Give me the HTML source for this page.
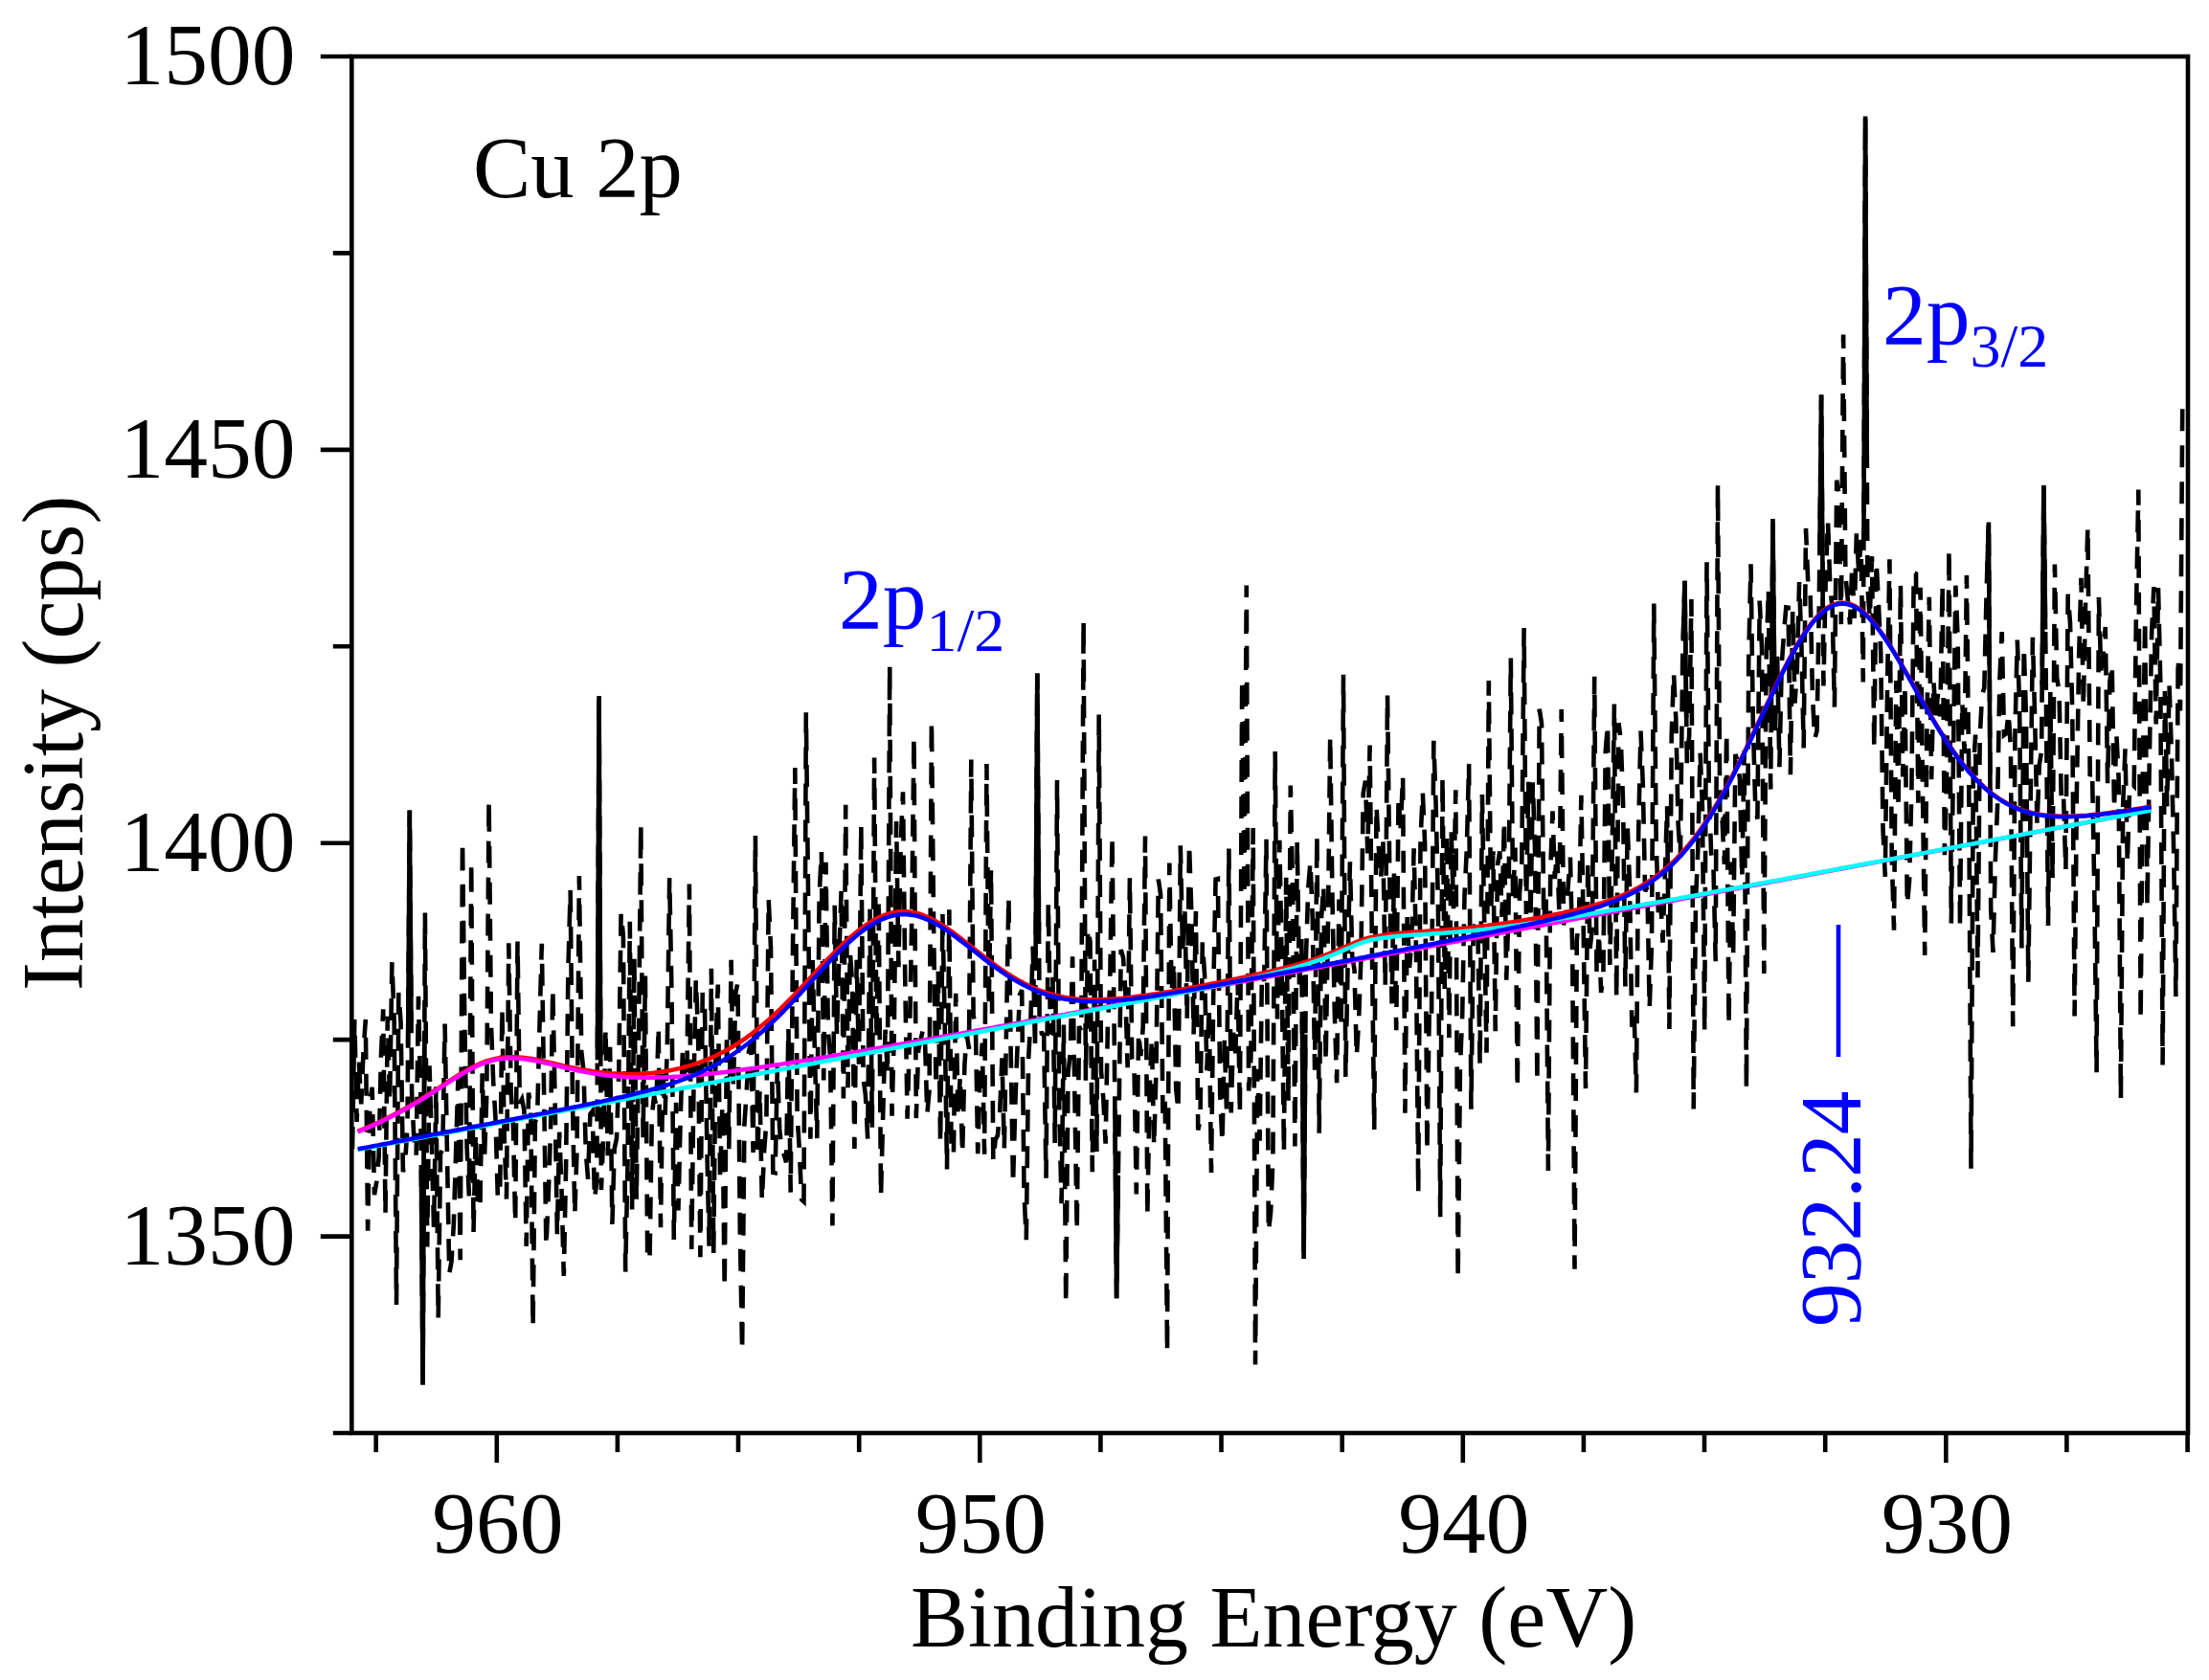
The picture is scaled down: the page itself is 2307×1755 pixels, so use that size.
<!DOCTYPE html><html><head><meta charset="utf-8"><title>Cu 2p XPS spectrum</title><style>html,body{margin:0;padding:0;background:#fff;overflow:hidden}svg{display:block}text{font-family:"Liberation Serif","Times New Roman",serif}</style></head><body><svg width="2307" height="1755" viewBox="0 0 2307 1755"><rect width="2307" height="1755" fill="#fff"/><polyline fill="none" stroke="#000" stroke-width="4.6" stroke-dasharray="23 15" stroke-linejoin="miter" points="368,1200.1 370.3,1065 372.6,1172 374.9,1109.5 377.2,1153.4 379.5,1098.9 381.8,1065 384.1,1285.7 386.4,1149.1 388.7,1135.9 391,1248.2 393.3,1234.6 395.6,1209 397.9,1104 400.2,1054.3 402.5,1268.3 404.8,1061.7 407.1,1151.3 409.4,1005.1 411.7,1066.8 414,1362.9 416.3,1037 418.6,1068.6 420.9,1224.2 423.2,1212.5 425.5,1177.6 427.8,846.4 430.1,1141.7 432.4,1191.2 434.7,1207.4 437,1040.9 439.3,1147.3 441.6,1446.4 443.9,953.6 446.2,1302.6 448.5,1113.4 450.8,1191.6 453.1,1284.2 455.4,1135.4 457.7,1377.9 460,1205.2 462.3,1200.2 464.6,1069.6 466.9,1201 469.2,1330.6 471.5,1317.9 473.8,1279.6 476.1,1204.5 478.4,1127.2 480.7,1316.2 483,878.6 485.3,1070.1 487.6,1198.8 489.9,1249.4 492.2,900 494.5,1287.9 496.8,1183.6 499.1,1257.6 501.4,1262.9 503.7,1121.3 506,1210 508.3,1142.3 510.6,835.7 512.9,1068.6 515.2,1129.9 517.5,1168.4 519.8,1249.5 522.1,1251 524.4,1053.6 526.7,1187.1 529,1252.6 531.3,985.2 533.6,1139.8 535.9,1176.6 538.2,1277.4 540.5,983.6 542.8,1152.6 545.1,1148.2 547.4,1159.9 549.7,1301.9 552,1141.6 554.3,1154.1 556.6,1386.4 558.9,1172.3 561.2,1164.5 563.5,1071.6 565.8,985.7 568.1,1139.2 570.4,1302 572.7,1250 575,1181.3 577.3,1032.9 579.6,1149.1 581.9,1289.9 584.2,1182.7 586.5,1242.2 588.8,1332.9 591.1,1218 593.4,1012 595.7,930 598,1151.8 600.3,1268.6 602.6,1199 604.9,915 607.2,1098 609.5,1118.9 611.8,1202.7 614.1,1231.7 616.4,1163.8 618.7,1160.7 621,1252.5 623.3,1233.9 625.6,727 627.9,1242.9 630.2,1184.6 632.5,1074.2 634.8,1207.1 637.1,1093.8 639.4,1278.9 641.7,1199.9 644,1189.3 646.3,1120.4 648.6,953.6 650.9,977.6 653.2,1328.6 655.5,1215.5 657.8,962.8 660.1,1263.4 662.4,1000.5 664.7,1253.2 667,1090.6 669.3,861.4 671.6,1188.3 673.9,1019 676.2,1315.7 678.5,1316.7 680.8,1166.3 683.1,1144.8 685.4,1155.8 687.7,1072.7 690,1282.1 692.3,1115.4 694.6,1164.7 696.9,1089.1 699.2,917.1 701.5,1039 703.8,1295 706.1,1151.7 708.4,1264.5 710.7,1167.6 713,1095.4 715.3,1132.1 717.6,1107.9 719.9,923.6 722.2,1305 724.5,1132.7 726.8,1023 729.1,1080.4 731.4,1313.3 733.7,1037 736,1053.8 738.3,1194.1 740.6,1301.8 742.9,1011.7 745.2,1309.3 747.5,1093.9 749.8,1028.6 752.1,1231.2 754.4,1153.9 756.7,1345.7 759,1079.1 761.3,1200.3 763.6,1002.9 765.9,1137.3 768.2,1038.3 770.5,1026.1 772.8,1283 775.1,1411.7 777.4,1174.9 779.7,1140.6 782,1098.1 784.3,1090.1 786.6,1204 788.9,872.9 791.2,1208 793.5,1138.6 795.8,1254.2 798.1,1202.7 800.4,1171.3 802.7,939.3 805,990.1 807.3,1224.8 809.6,1225.2 811.9,1111.9 814.2,1179.7 816.5,1202.7 818.8,1206.4 821.1,1214.3 823.4,1073.7 825.7,1245.6 828,991.1 830.3,802.1 832.6,1164.7 834.9,1201.8 837.2,1253.1 839.5,1255.2 841.8,744.3 844.1,937.4 846.4,1189.7 848.7,1003 851,1103.5 853.3,1189.1 855.6,937.1 857.9,889.3 860.2,1128.4 862.5,900.7 864.8,1076 867.1,1104.1 869.4,1280.4 871.7,945.7 874,1081.4 876.3,999.3 878.6,930.6 880.9,1147.5 883.2,840.7 885.5,1136.2 887.8,994.3 890.1,1027.1 892.4,1200 894.7,1002.7 897,1111.6 899.3,862.1 901.6,1126.5 903.9,1143.8 906.2,1189.6 908.5,947.6 910.8,1177.8 913.1,791.4 915.4,1085.2 917.7,939.3 920,1249.6 922.3,1159.9 924.6,1075.7 926.9,1122.3 929.2,695 931.5,1165.8 933.8,1079.3 936.1,858.1 938.4,1010.1 940.7,880.9 943,827.3 945.3,1026.9 947.6,1168.6 949.9,1085.7 952.2,962.4 954.5,770 956.8,1168.1 959.1,1097.6 961.4,1086.7 963.7,1076.6 966,1086.1 968.3,1163.9 970.6,1138.5 972.9,752.9 975.2,977.4 977.5,1134.9 979.8,1014.1 982.1,1194.2 984.4,955.1 986.7,1070 989,1221.5 991.3,950.2 993.6,1204.9 995.9,1205.8 998.2,1037.9 1000.5,1163.2 1002.8,1123.9 1005.1,1205.4 1007.4,1111.8 1009.7,1080.7 1012,1095.8 1014.3,793.6 1016.6,1061.1 1018.9,1070.7 1021.2,1205.3 1023.5,1123.5 1025.8,1089.6 1028.1,1205.8 1030.4,797.9 1032.7,1052.1 1035,908.1 1037.3,1212.6 1039.6,1190.5 1041.9,1186.2 1044.2,1161.5 1046.5,1105.4 1048.8,1200 1051.1,1069.7 1053.4,937.1 1055.7,1101.6 1058,1237.2 1060.3,1153.3 1062.6,1091.6 1064.9,1039.3 1067.2,1034.2 1069.5,1245.5 1071.8,1295.1 1074.1,1106.7 1076.4,1065.2 1078.7,988.5 1081,1094.4 1083.3,703.6 1085.6,1062.4 1087.9,1079.6 1090.2,1080.7 1092.5,1230.8 1094.8,942.7 1097.1,1080.6 1099.4,1018.4 1101.7,1194.1 1104,815 1106.3,1161.8 1108.6,1257.1 1110.9,1070.5 1113.2,1362.1 1115.5,1120.5 1117.8,1100.3 1120.1,999.4 1122.4,1146 1124.7,1286 1127,1072.1 1129.3,1077.1 1131.6,647.9 1133.9,1128.8 1136.2,969.8 1138.5,983.4 1140.8,1224.3 1143.1,1002.6 1145.4,1203.1 1147.7,746.4 1150,1118.7 1152.3,1147.9 1154.6,1194.7 1156.9,1070.9 1159.2,1030.2 1161.5,873.5 1163.8,1093.3 1166.1,1356.3 1168.4,1185 1170.7,992 1173,1000.2 1175.3,1035.2 1177.6,1115.2 1179.9,916.9 1182.2,1106.2 1184.5,1113.9 1186.8,1247.5 1189.1,1078.7 1191.4,1103.1 1193.7,1073.1 1196,873.5 1198.3,1269.8 1200.6,1139.8 1202.9,1084.9 1205.2,1197.5 1207.5,1117.4 1209.8,918.5 1212.1,934.4 1214.4,1162.9 1216.7,1147.3 1219,1412.5 1221.3,901.6 1223.6,1036.5 1225.9,1004.8 1228.2,1137.4 1230.5,1160 1232.8,883.2 1235.1,992.4 1237.4,952.2 1239.7,1064.4 1242,881.5 1244.3,952.7 1246.6,1080.5 1248.9,951.9 1251.2,1180.4 1253.5,1170 1255.8,984.4 1258.1,1018.6 1260.4,1118.2 1262.7,1052.4 1265,1225 1267.3,1030.6 1269.6,918.5 1271.9,917.9 1274.2,1144 1276.5,1193.8 1278.8,1084.6 1281.1,1163.7 1283.4,886.5 1285.7,1162.5 1288,1078.7 1290.3,1100.2 1292.6,1022 1294.9,1163.9 1297.2,709.5 1299.5,936 1301.8,611.4 1304.1,1139.5 1306.4,1104.5 1308.7,864.9 1311,1425.6 1313.3,1116.8 1315.6,1191.8 1317.9,1016.6 1320.2,1025 1322.5,876.7 1324.8,1286.9 1327.1,1266.3 1329.4,1211 1331.7,785.1 1334,1064.6 1336.3,877.7 1338.6,1007 1340.9,1203.8 1343.2,916.7 1345.5,1150.8 1347.8,820.5 1350.1,934.3 1352.4,1197.5 1354.7,878.3 1357,1031.5 1359.3,981.1 1361.6,1315 1363.9,1002.2 1366.2,928 1368.5,900.2 1370.8,960.3 1373.1,1117.8 1375.4,872.5 1377.7,1183.8 1380,959.2 1382.3,925 1384.6,1109.1 1386.9,969.1 1389.2,769 1391.5,940.3 1393.8,1057.2 1396.1,1131.3 1398.4,939.5 1400.7,1074.1 1403,704.7 1405.3,1125 1407.6,1006.4 1409.9,900.2 1412.2,998.6 1414.5,1013 1416.8,1103.6 1419.1,1065 1421.4,1000.3 1423.7,828.9 1426,815.6 1428.3,891.4 1430.6,778.6 1432.9,992.6 1435.2,1180 1437.5,842 1439.8,885 1442.1,918.7 1444.4,878.5 1446.7,1030 1449,725.6 1451.3,916.8 1453.6,1048.4 1455.9,912.5 1458.2,1076.3 1460.5,834.9 1462.8,865.1 1465.1,810.6 1467.4,1162.8 1469.7,954.1 1472,1010.8 1474.3,982.6 1476.6,886.4 1478.9,989.9 1481.2,1246.3 1483.5,878.9 1485.8,827.5 1488.1,880.9 1490.4,1202.5 1492.7,1058.1 1495,1065.1 1497.3,773.8 1499.6,840.5 1501.9,944.9 1504.2,1271.3 1506.5,812.4 1508.8,1032.9 1511.1,870.4 1513.4,1084.1 1515.7,869.3 1518,949.1 1520.3,825.2 1522.6,1336.3 1524.9,1117 1527.2,1059.4 1529.5,935.3 1531.8,887.5 1534.1,797.9 1536.4,1158.8 1538.7,970.6 1541,964.5 1543.3,962.7 1545.6,1112.5 1547.9,830.1 1550.2,966 1552.5,1099.8 1554.8,711 1557.1,953.8 1559.4,889.3 1561.7,1077.1 1564,903.8 1566.3,889.4 1568.6,957.9 1570.9,857.5 1573.2,1023.6 1575.5,951 1577.8,687.4 1580.1,941.5 1582.4,885.6 1584.7,1137.1 1587,933.7 1589.3,901.4 1591.6,656 1593.9,954.9 1596.2,816.7 1598.5,960.6 1600.8,817.2 1603.1,889.9 1605.4,1130.7 1607.7,740.7 1610,755.7 1612.3,964.5 1614.6,932.5 1616.9,1222.9 1619.2,909.1 1621.5,847.3 1623.8,918.1 1626.1,888.7 1628.4,953.1 1630.7,741 1633,966.2 1635.3,956.1 1637.6,926.5 1639.9,895.6 1642.2,994.4 1644.5,1325.7 1646.8,982.1 1649.1,958.5 1651.4,830.7 1653.7,969.7 1656,1137.1 1658.3,901.5 1660.6,990.7 1662.9,968.3 1665.2,706.8 1667.5,1017.1 1669.8,974.6 1672.1,1037 1674.4,1019.2 1676.7,785.7 1679,756.4 1681.3,1007.9 1683.6,896 1685.9,735.4 1688.2,1042.9 1690.5,755.3 1692.8,773.6 1695.1,839 1697.4,1030.5 1699.7,862.7 1702,926.1 1704.3,1072.8 1706.6,1057 1708.9,1141.4 1711.2,868.3 1713.5,763.6 1715.8,819.5 1718.1,931.3 1720.4,926.8 1722.7,1053.6 1725,984.5 1727.3,630.5 1729.6,875.1 1731.9,953.3 1734.2,936.9 1736.5,984.7 1738.8,915 1741.1,842 1743.4,1075 1745.7,768.9 1748,703 1750.3,751.4 1752.6,860.3 1754.9,895.4 1757.2,690.4 1759.5,606.9 1761.8,797.5 1764.1,768.8 1766.4,626 1768.7,1158.6 1771,941 1773.3,886.8 1775.6,785.4 1777.9,842.7 1780.2,1077.1 1782.5,587.2 1784.8,825.6 1787.1,891.2 1789.4,903.2 1791.7,1004.3 1794,506.7 1796.3,859.8 1798.6,856.8 1800.9,902.8 1803.2,765.5 1805.5,1070.7 1807.8,900.5 1810.1,998.3 1812.4,788 1814.7,794.8 1817,814.3 1819.3,917.8 1821.6,784.6 1823.9,1137.1 1826.2,690.9 1828.5,589.2 1830.8,753.6 1833.1,837.4 1835.4,855.6 1837.7,627.6 1840,676.3 1842.3,1017.1 1844.6,691.6 1846.9,615.3 1849.2,824.6 1851.5,542 1853.8,768.9 1856.1,685.7 1858.4,801.2 1860.7,695.5 1863,661.9 1865.3,634.4 1867.6,634.8 1869.9,809.3 1872.2,637.6 1874.5,734.7 1876.8,698.7 1879.1,608 1881.4,674.5 1883.7,781.4 1886,551.9 1888.3,610.4 1890.6,618.8 1892.9,724.6 1895.2,772 1897.5,763.7 1899.8,632 1902.1,412.4 1904.4,716.4 1906.7,604.4 1909,544.4 1911.3,613 1913.6,635.3 1915.9,738.6 1918.2,501.7 1920.5,516 1922.8,652.1 1925.1,349.5 1927.4,601.7 1929.7,625.3 1932,652.2 1934.3,591.5 1936.6,646 1938.9,557.3 1941.2,596.8 1943.5,563.9 1945.8,712.5 1948.1,121.5 1950.4,611.4 1952.7,645.8 1955,581.2 1957.3,781.4 1959.6,587.1 1961.9,630.2 1964.2,681.1 1966.5,866.2 1968.8,915.9 1971.1,713.7 1973.4,584.3 1975.7,893.1 1978,971.7 1980.3,710.9 1982.6,845.1 1984.9,610.6 1987.2,811.4 1989.5,715.2 1991.8,945.3 1994.1,919.9 1996.4,823.7 1998.7,598.2 2001,599.4 2003.3,838.7 2005.6,613.7 2007.9,820 2010.2,998 2012.5,748.5 2014.8,623.7 2017.1,814.1 2019.4,711.3 2021.7,749.4 2024,723.9 2026.3,748.3 2028.6,610.8 2030.9,893.2 2033.2,803.6 2035.5,573.4 2037.8,964.6 2040.1,782.1 2042.4,611.7 2044.7,669.4 2047,968.6 2049.3,733 2051.6,787.2 2053.9,601 2056.2,811.1 2058.5,1220.8 2060.8,806.2 2063.1,767.6 2065.4,1021.2 2067.7,770.3 2070,725.9 2072.3,718.6 2074.6,618.9 2076.9,545.6 2079.2,949.9 2081.5,994.9 2083.8,899.8 2086.1,841.2 2088.4,709.7 2090.7,660.1 2093,767.8 2095.3,766.2 2097.6,744.7 2099.9,780.8 2102.2,1072.2 2104.5,764.1 2106.8,668.6 2109.1,736.6 2111.4,990.5 2113.7,675.6 2116,749.6 2118.3,1025.8 2120.6,840.6 2122.9,665.7 2125.2,752.8 2127.5,861.2 2129.8,798.9 2132.1,784.7 2134.4,506.9 2136.7,707.7 2139,967 2141.3,723 2143.6,917.4 2145.9,589.6 2148.2,708.5 2150.5,722.2 2152.8,838 2155.1,832.5 2157.4,909.3 2159.7,620.7 2162,650.8 2164.3,745.4 2166.6,1061.4 2168.9,826.7 2171.2,684.3 2173.5,603.7 2175.8,738.1 2178.1,627.8 2180.4,550.2 2182.7,810.9 2185,805.2 2187.3,930.4 2189.6,1120.2 2191.9,624 2194.2,700.4 2196.5,684.4 2198.8,655 2201.1,818.1 2203.4,712 2205.7,694.1 2208,845.4 2210.3,765.9 2212.6,812.7 2214.9,1148.1 2217.2,840.8 2219.5,782.4 2221.8,901.8 2224.1,821.7 2226.4,818.9 2228.7,821.2 2231,635.7 2233.3,511.5 2235.6,1066 2237.9,802.8 2240.2,646.8 2242.5,946.3 2244.8,793.8 2247.1,662.6 2249.4,613 2251.7,756.5 2254,613.7 2256.3,713.4 2258.6,1112.5 2260.9,721.9 2263.2,842.4 2265.5,714.3 2267.8,783.8 2270.1,886.9 2272.4,1041 2274.7,687.2 2277,742.5 2279.3,417.1 2280,416"/><path fill="none" stroke="#000" stroke-width="4.6" d="M1946.4,564.8L1948.1,121.5L1949.8,488.9 M623.9,1107.2L625.6,727L627.3,1113.9 M426.1,1094.8L427.8,846.4L429.5,1067.9 M439.9,1222.1L441.6,1446.4L443.3,1076.8 M1081.6,996.7L1083.3,703.6L1085,972.7 M2132.7,715.3L2134.4,506.9L2136.1,657.5 M2075.2,600.6L2076.9,545.6L2078.6,848.8 M1164.4,1159L1166.1,1356.3L1167.8,1227.8 M1359.9,1064.6L1361.6,1315L1363.3,1080.4 M1849.8,754L1851.5,542L1853.2,712.2 M1757.8,669.5L1759.5,606.9L1761.2,749.9 M1900.4,577.1L1902.1,412.4L1903.8,640.4"/><g fill="none" stroke-width="4.5" stroke-linejoin="round"><path stroke="#ff0000" d="M373.6,1181.7 376.6,1180.5 379.6,1179.3 382.6,1178 385.6,1176.7 388.6,1175.4 391.6,1174 394.6,1172.7 397.6,1171.2 400.6,1169.8 403.6,1168.3 406.6,1166.8 409.6,1165.3 412.6,1163.7 415.6,1162.1 418.6,1160.5 421.6,1158.8 424.6,1157.2 427.6,1155.4 430.6,1153.7 433.6,1151.9 436.6,1150.1 439.6,1148.2 442.6,1146.4 445.6,1144.5 448.6,1142.6 451.6,1140.6 454.6,1138.7 457.6,1136.8 460.6,1134.8 463.6,1132.8 466.6,1130.9 469.6,1129 472.6,1127 475.6,1125.1 478.6,1123.3 481.6,1121.5 484.6,1119.7 487.6,1118 490.6,1116.3 493.6,1114.8 496.6,1113.3 499.6,1111.9 502.6,1110.6 505.6,1109.4 508.6,1108.4 511.6,1107.4 514.6,1106.6 517.6,1105.9 520.6,1105.4 523.6,1104.9 526.6,1104.6 529.6,1104.3 532.6,1104.2 535.6,1104.2 538.6,1104.3 541.6,1104.4 544.6,1104.7 547.6,1105 550.6,1105.4 553.6,1105.8 556.6,1106.3 559.6,1106.9 562.6,1107.5 565.6,1108.1 568.6,1108.8 571.6,1109.4 574.6,1110.1 577.6,1110.8 580.6,1111.5 583.6,1112.2 586.6,1112.9 589.6,1113.6 592.6,1114.3 595.6,1114.9 598.6,1115.5 601.6,1116.2 604.6,1116.7 607.6,1117.3 610.6,1117.8 613.6,1118.3 616.6,1118.8 619.6,1119.3 622.6,1119.7 625.6,1120.1 628.6,1120.4 631.6,1120.7 634.6,1121 637.6,1121.3 640.6,1121.5 643.6,1121.6 646.6,1121.8 649.6,1121.9 652.6,1122 655.6,1122 658.6,1122 661.6,1122 664.6,1121.9 667.6,1121.8 670.6,1121.6 673.6,1121.4 676.6,1121.2 679.6,1121 682.6,1120.7 685.6,1120.3 688.6,1119.9 691.6,1119.5 694.6,1119 697.6,1118.5 700.6,1118 703.6,1117.4 706.6,1116.7 709.6,1116.1 712.6,1115.3 715.6,1114.5 718.6,1113.7 721.6,1112.8 724.6,1111.9 727.6,1110.9 730.6,1109.8 733.6,1108.7 736.6,1107.6 739.6,1106.3 742.6,1105.1 745.6,1103.7 748.6,1102.3 751.6,1100.8 754.6,1099.3 757.6,1097.7 760.6,1096 763.6,1094.3 766.6,1092.5 769.6,1090.6 772.6,1088.7 775.6,1086.6 778.6,1084.6 781.6,1082.4 784.6,1080.2 787.6,1077.9 790.6,1075.5 793.6,1073.1 796.6,1070.6 799.6,1068 802.6,1065.4 805.6,1062.7 808.6,1059.9 811.6,1057.1 814.6,1054.3 817.6,1051.3 820.6,1048.4 823.6,1045.3 826.6,1042.3 829.6,1039.2 832.6,1036.1 835.6,1032.9 838.6,1029.7 841.6,1026.5 844.6,1023.3 847.6,1020.1 850.6,1016.8 853.6,1013.6 856.6,1010.4 859.6,1007.2 862.6,1004 865.6,1000.9 868.6,997.8 871.6,994.7 874.6,991.7 877.6,988.8 880.6,985.9 883.6,983.1 886.6,980.4 889.6,977.7 892.6,975.2 895.6,972.7 898.6,970.4 901.6,968.2 904.6,966.1 907.6,964.1 910.6,962.3 913.6,960.6 916.6,959 919.6,957.6 922.6,956.4 925.6,955.3 928.6,954.3 931.6,953.5 934.6,952.9 937.6,952.4 940.6,952.2 943.6,952.1 946.6,952.2 949.6,952.4 952.6,952.9 955.6,953.5 958.6,954.2 961.6,955.2 964.6,956.2 967.6,957.5 970.6,958.8 973.6,960.3 976.6,961.9 979.6,963.6 982.6,965.4 985.6,967.4 988.6,969.4 991.6,971.4 994.6,973.6 997.6,975.8 1000.6,978 1003.6,980.3 1006.6,982.7 1009.6,985 1012.6,987.4 1015.6,989.8 1018.6,992.2 1021.6,994.5 1024.6,996.9 1027.6,999.2 1030.6,1001.6 1033.6,1003.8 1036.6,1006.1 1039.6,1008.3 1042.6,1010.5 1045.6,1012.6 1048.6,1014.6 1051.6,1016.6 1054.6,1018.6 1057.6,1020.4 1060.6,1022.2 1063.6,1024 1066.6,1025.6 1069.6,1027.2 1072.6,1028.7 1075.6,1030.2 1078.6,1031.5 1081.6,1032.8 1084.6,1034 1087.6,1035.2 1090.6,1036.2 1093.6,1037.2 1096.6,1038.1 1099.6,1039 1102.6,1039.7 1105.6,1040.5 1108.6,1041.1 1111.6,1041.7 1114.6,1042.2 1117.6,1042.6 1120.6,1043 1123.6,1043.4 1126.6,1043.7 1129.6,1043.9 1132.6,1044.1 1135.6,1044.2 1138.6,1044.3 1141.6,1044.3 1144.6,1044.3 1147.6,1044.3 1150.6,1044.2 1153.6,1044.1 1156.6,1044 1159.6,1043.8 1162.6,1043.6 1165.6,1043.4 1168.6,1043.1 1171.6,1042.9 1174.6,1042.6 1177.6,1042.2 1180.6,1041.9 1183.6,1041.5 1186.6,1041.1 1189.6,1040.7 1192.6,1040.3 1195.6,1039.9 1198.6,1039.5 1201.6,1039 1204.6,1038.6 1207.6,1038.1 1210.6,1037.6 1213.6,1037.1 1216.6,1036.6 1219.6,1036.1 1222.6,1035.6 1225.6,1035.1 1228.6,1034.5 1231.6,1034 1234.6,1033.5 1237.6,1032.9 1240.6,1032.4 1243.6,1031.8 1246.6,1031.3 1249.6,1030.7 1252.6,1030.1 1255.6,1029.6 1258.6,1029 1261.6,1028.4 1264.6,1027.8 1267.6,1027.2 1270.6,1026.6 1273.6,1026 1276.6,1025.4 1279.6,1024.8 1282.6,1024.2 1285.6,1023.6 1288.6,1023 1291.6,1022.4 1294.6,1021.7 1297.6,1021.1 1300.6,1020.5 1303.6,1019.8 1306.6,1019.2 1309.6,1018.5 1312.6,1017.8 1315.6,1017.2 1318.6,1016.5 1321.6,1015.8 1324.6,1015.1 1327.6,1014.4 1330.6,1013.7 1333.6,1012.9 1336.6,1012.2 1339.6,1011.4 1342.6,1010.7 1345.6,1009.9 1348.6,1009.1 1351.6,1008.3 1354.6,1007.4 1357.6,1006.6 1360.6,1005.7 1363.6,1004.8 1366.6,1003.8 1369.6,1002.9 1372.6,1001.9 1375.6,1000.9 1378.6,999.8 1381.6,998.7 1384.6,997.6 1387.6,996.4 1390.6,995.2 1393.6,994 1396.6,992.7 1399.6,991.4 1402.6,990.1 1405.6,988.8 1408.6,987.5 1411.6,986.2 1414.6,984.9 1417.6,983.7 1420.6,982.5 1423.6,981.4 1426.6,980.5 1429.6,979.7 1432.6,979 1435.6,978.4 1438.6,977.9 1441.6,977.4 1444.6,976.9 1447.6,976.5 1450.6,976.1 1453.6,975.7 1456.6,975.4 1459.6,975.1 1462.6,974.8 1465.6,974.5 1468.6,974.3 1471.6,974 1474.6,973.8 1477.6,973.6 1480.6,973.4 1483.6,973.2 1486.6,973 1489.6,972.8 1492.6,972.6 1495.6,972.4 1498.6,972.2 1501.6,972 1504.6,971.8 1507.6,971.5 1510.6,971.3 1513.6,971 1516.6,970.8 1519.6,970.5 1522.6,970.3 1525.6,970 1528.6,969.7 1531.6,969.4 1534.6,969.1 1537.6,968.7 1540.6,968.4 1543.6,968.1 1546.6,967.7 1549.6,967.3 1552.6,967 1555.6,966.6 1558.6,966.2 1561.6,965.8 1564.6,965.4 1567.6,964.9 1570.6,964.5 1573.6,964.1 1576.6,963.6 1579.6,963.2 1582.6,962.7 1585.6,962.2 1588.6,961.7 1591.6,961.3 1594.6,960.8 1597.6,960.2 1600.6,959.7 1603.6,959.2 1606.6,958.7 1609.6,958.1 1612.6,957.6 1615.6,957 1618.6,956.4 1621.6,955.8 1624.6,955.2 1627.6,954.6 1630.6,954 1633.6,953.4 1636.6,952.7 1639.6,952 1642.6,951.4 1645.6,950.7 1648.6,949.9 1651.6,949.2 1654.6,948.4 1657.6,947.6 1660.6,946.8 1663.6,946 1666.6,945.1 1669.6,944.2 1672.6,943.3 1675.6,942.3 1678.6,941.3 1681.6,940.3 1684.6,939.2 1687.6,938 1690.6,936.9 1693.6,935.6 1696.6,934.3 1699.6,933 1702.6,931.6 1705.6,930.1 1708.6,928.5 1711.6,926.9 1714.6,925.2 1717.6,923.4 1720.6,921.5 1723.6,919.6 1726.6,917.5 1729.6,915.3 1732.6,913.1 1735.6,910.7 1738.6,908.2 1741.6,905.6 1744.6,902.9 1747.6,900 1750.6,897.1 1753.6,893.9 1756.6,890.7 1759.6,887.3 1762.6,883.8 1765.6,880.1 1768.6,876.3 1771.6,872.4 1774.6,868.3 1777.6,864 1780.6,859.6 1783.6,855 1786.6,850.3 1789.6,845.5 1792.6,840.5 1795.6,835.4 1798.6,830.1 1801.6,824.7 1804.6,819.2 1807.6,813.5 1810.6,807.8 1813.6,801.9 1816.6,795.9 1819.6,789.9 1822.6,783.7 1825.6,777.5 1828.6,771.2 1831.6,764.9 1834.6,758.5 1837.6,752.1 1840.6,745.7 1843.6,739.3 1846.6,733 1849.6,726.6 1852.6,720.3 1855.6,714.1 1858.6,708 1861.6,701.9 1864.6,696 1867.6,690.3 1870.6,684.7 1873.6,679.2 1876.6,674 1879.6,669 1882.6,664.2 1885.6,659.6 1888.6,655.4 1891.6,651.4 1894.6,647.7 1897.6,644.3 1900.6,641.2 1903.6,638.5 1906.6,636.2 1909.6,634.2 1912.6,632.5 1915.6,631.2 1918.6,630.3 1921.6,629.8 1924.6,629.7 1927.6,629.9 1930.6,630.5 1933.6,631.5 1936.6,632.9 1939.6,634.6 1942.6,636.6 1945.6,638.9 1948.6,641.6 1951.6,644.6 1954.6,647.8 1957.6,651.3 1960.6,655.1 1963.6,659.1 1966.6,663.3 1969.6,667.6 1972.6,672.2 1975.6,676.9 1978.6,681.8 1981.6,686.7 1984.6,691.8 1987.6,697 1990.6,702.2 1993.6,707.4 1996.6,712.7 1999.6,718 2002.6,723.4 2005.6,728.7 2008.6,733.9 2011.6,739.2 2014.6,744.3 2017.6,749.4 2020.6,754.5 2023.6,759.4 2026.6,764.3 2029.6,769 2032.6,773.7 2035.6,778.2 2038.6,782.6 2041.6,786.8 2044.6,791 2047.6,794.9 2050.6,798.8 2053.6,802.5 2056.6,806 2059.6,809.4 2062.6,812.7 2065.6,815.8 2068.6,818.7 2071.6,821.6 2074.6,824.2 2077.6,826.7 2080.6,829.1 2083.6,831.3 2086.6,833.4 2089.6,835.4 2092.6,837.2 2095.6,838.9 2098.6,840.5 2101.6,842 2104.6,843.3 2107.6,844.5 2110.6,845.7 2113.6,846.7 2116.6,847.6 2119.6,848.5 2122.6,849.2 2125.6,849.9 2128.6,850.5 2131.6,851 2134.6,851.4 2137.6,851.8 2140.6,852.1 2143.6,852.3 2146.6,852.5 2149.6,852.6 2152.6,852.7 2155.6,852.7 2158.6,852.7 2161.6,852.7 2164.6,852.6 2167.6,852.5 2170.6,852.3 2173.6,852.1 2176.6,851.9 2179.6,851.7 2182.6,851.4 2185.6,851.1 2188.6,850.8 2191.6,850.5 2194.6,850.2 2197.6,849.8 2200.6,849.4 2203.6,849 2206.6,848.6 2209.6,848.2 2212.6,847.8 2215.6,847.4 2218.6,847 2221.6,846.5 2224.6,846.1 2227.6,845.6 2230.6,845.1 2233.6,844.7 2236.6,844.2 2239.6,843.7 2242.6,843.2 2245.6,842.7 2246.6,842.6"/><path stroke="#ff00ff" d="M373.6,1182.4 376.6,1181.2 379.6,1180 382.6,1178.7 385.6,1177.4 388.6,1176.1 391.6,1174.8 394.6,1173.4 397.6,1172 400.6,1170.6 403.6,1169.1 406.6,1167.6 409.6,1166.1 412.6,1164.5 415.6,1163 418.6,1161.3 421.6,1159.7 424.6,1158 427.6,1156.3 430.6,1154.5 433.6,1152.8 436.6,1150.9 439.6,1149.1 442.6,1147.3 445.6,1145.4 448.6,1143.5 451.6,1141.6 454.6,1139.6 457.6,1137.7 460.6,1135.7 463.6,1133.8 466.6,1131.9 469.6,1129.9 472.6,1128 475.6,1126.1 478.6,1124.3 481.6,1122.5 484.6,1120.7 487.6,1119 490.6,1117.4 493.6,1115.8 496.6,1114.4 499.6,1113 502.6,1111.7 505.6,1110.6 508.6,1109.5 511.6,1108.6 514.6,1107.8 517.6,1107.1 520.6,1106.6 523.6,1106.1 526.6,1105.8 529.6,1105.6 532.6,1105.5 535.6,1105.5 538.6,1105.5 541.6,1105.7 544.6,1106 547.6,1106.3 550.6,1106.7 553.6,1107.2 556.6,1107.7 559.6,1108.3 562.6,1108.9 565.6,1109.6 568.6,1110.2 571.6,1110.9 574.6,1111.6 577.6,1112.4 580.6,1113.1 583.6,1113.8 586.6,1114.5 589.6,1115.3 592.6,1116 595.6,1116.6 598.6,1117.3 601.6,1118 604.6,1118.6 607.6,1119.2 610.6,1119.8 613.6,1120.3 616.6,1120.9 619.6,1121.4 622.6,1121.8 625.6,1122.3 628.6,1122.7 631.6,1123.1 634.6,1123.5 637.6,1123.8 640.6,1124.1 643.6,1124.4 646.6,1124.6 649.6,1124.9 652.6,1125 655.6,1125.2 658.6,1125.4 661.6,1125.5 664.6,1125.6 667.6,1125.7 670.6,1125.7 673.6,1125.7 676.6,1125.7 679.6,1125.7 682.6,1125.7 685.6,1125.6 688.6,1125.6 691.6,1125.5 694.6,1125.4 697.6,1125.2 700.6,1125.1 703.6,1124.9 706.6,1124.7 709.6,1124.6 712.6,1124.3 715.6,1124.1 718.6,1123.9 721.6,1123.6 724.6,1123.4 727.6,1123.1 730.6,1122.8 733.6,1122.5 736.6,1122.2 739.6,1121.9 742.6,1121.6 745.6,1121.3 748.6,1120.9 751.6,1120.6 754.6,1120.2 757.6,1119.9 760.6,1119.5 763.6,1119.1 766.6,1118.7 769.6,1118.3 772.6,1117.9 775.6,1117.5 778.6,1117.1 781.6,1116.7 784.6,1116.3 787.6,1115.9 790.6,1115.4 793.6,1115 796.6,1114.6 799.6,1114.1 802.6,1113.7 805.6,1113.2 808.6,1112.8 811.6,1112.3 814.6,1111.9 817.6,1111.4 820.6,1110.9 823.6,1110.5 826.6,1110 829.6,1109.5 832.6,1109 835.6,1108.6 838.6,1108.1 841.6,1107.6 844.6,1107.1 847.6,1106.6 850.6,1106.1 853.6,1105.6 856.6,1105.2 859.6,1104.7 862.6,1104.2 865.6,1103.7 868.6,1103.2 871.6,1102.7 874.6,1102.2 877.6,1101.7 880.6,1101.2 883.6,1100.6 886.6,1100.1 889.6,1099.6 892.6,1099.1 895.6,1098.6 898.6,1098.1 901.6,1097.6 904.6,1097.1 907.6,1096.5 910.6,1096 913.6,1095.5 916.6,1095 919.6,1094.5 922.6,1093.9 925.6,1093.4 928.6,1092.9 931.6,1092.4 934.6,1091.8 937.6,1091.3 940.6,1090.8 943.6,1090.3 946.6,1089.7 949.6,1089.2 952.6,1088.7 955.6,1088.1 958.6,1087.6 961.6,1087.1 964.6,1086.5 967.6,1086 970.6,1085.5 973.6,1084.9 976.6,1084.4 979.6,1083.9 982.6,1083.3 985.6,1082.8 988.6,1082.3 991.6,1081.7 994.6,1081.2 997.6,1080.6 1000.6,1080.1 1003.6,1079.6 1006.6,1079 1009.6,1078.5 1012.6,1077.9 1015.6,1077.4 1018.6,1076.8 1021.6,1076.3 1024.6,1075.8 1027.6,1075.2 1030.6,1074.7 1033.6,1074.1 1036.6,1073.6 1039.6,1073 1042.6,1072.5 1045.6,1071.9 1048.6,1071.4 1051.6,1070.9 1054.6,1070.3 1057.6,1069.8 1060.6,1069.2 1063.6,1068.7 1066.6,1068.1 1069.6,1067.6 1072.6,1067 1075.6,1066.5 1078.6,1065.9 1081.6,1065.4 1084.6,1064.8 1087.6,1064.3 1090.6,1063.7 1093.6,1063.2 1096.6,1062.6 1099.6,1062.1 1102.6,1061.5 1105.6,1061 1108.6,1060.4 1111.6,1059.9 1114.6,1059.3 1117.6,1058.7 1120.6,1058.2 1123.6,1057.6 1126.6,1057.1 1129.6,1056.5 1132.6,1056 1135.6,1055.4 1138.6,1054.9 1141.6,1054.3 1144.6,1053.8 1147.6,1053.2 1150.6,1052.6 1153.6,1052.1 1156.6,1051.5 1159.6,1051 1162.6,1050.4 1165.6,1049.9 1168.6,1049.3 1171.6,1048.8 1174.6,1048.2 1177.6,1047.6 1180.6,1047.1 1183.6,1046.5 1186.6,1046 1189.6,1045.4 1192.6,1044.9 1195.6,1044.3 1198.6,1043.7 1201.6,1043.2 1204.6,1042.6 1207.6,1042.1 1210.6,1041.5 1213.6,1041 1216.6,1040.4 1219.6,1039.8 1222.6,1039.3 1225.6,1038.7 1228.6,1038.2 1231.6,1037.6 1234.6,1037 1237.6,1036.5 1240.6,1035.9 1243.6,1035.4 1246.6,1034.8 1249.6,1034.3 1252.6,1033.7 1255.6,1033.1 1258.6,1032.6 1261.6,1032 1264.6,1031.5 1267.6,1030.9 1270.6,1030.3 1273.6,1029.8 1276.6,1029.2 1279.6,1028.7 1282.6,1028.1 1285.6,1027.5 1288.6,1027 1291.6,1026.4 1294.6,1025.8 1297.6,1025.3 1300.6,1024.7 1303.6,1024.2 1306.6,1023.6 1309.6,1023 1312.6,1022.5 1315.6,1021.9 1318.6,1021.4 1321.6,1020.8 1324.6,1020.2 1327.6,1019.7 1330.6,1019.1 1333.6,1018.6 1336.6,1018 1339.6,1017.4 1342.6,1016.9 1345.6,1016.3 1348.6,1015.7 1351.6,1015.2 1354.6,1014.6 1357.6,1014.1 1360.6,1013.5 1363.6,1012.9 1366.6,1012.4 1369.6,1011.8 1372.6,1011.2 1375.6,1010.7 1378.6,1010.1 1381.6,1009.6 1384.6,1009 1387.6,1008.4 1390.6,1007.9 1393.6,1007.3 1396.6,1006.7 1399.6,1006.2 1402.6,1005.6 1405.6,1005.1 1408.6,1004.5 1411.6,1003.9 1414.6,1003.4 1417.6,1002.8 1420.6,1002.2 1423.6,1001.7 1426.6,1001.1 1429.6,1000.5 1432.6,1000 1435.6,999.4 1438.6,998.9 1441.6,998.3 1444.6,997.7 1447.6,997.2 1450.6,996.6 1453.6,996 1456.6,995.5 1459.6,994.9 1462.6,994.3 1465.6,993.8 1468.6,993.2 1471.6,992.7 1474.6,992.1 1477.6,991.5 1480.6,991 1483.6,990.4 1486.6,989.8 1489.6,989.3 1492.6,988.7 1495.6,988.1 1498.6,987.6 1501.6,987 1504.6,986.4 1507.6,985.9 1510.6,985.3 1513.6,984.8 1516.6,984.2 1519.6,983.6 1522.6,983.1 1525.6,982.5 1528.6,981.9 1531.6,981.4 1534.6,980.8 1537.6,980.2 1540.6,979.7 1543.6,979.1 1546.6,978.5 1549.6,978 1552.6,977.4 1555.6,976.8 1558.6,976.3 1561.6,975.7 1564.6,975.2 1567.6,974.6 1570.6,974 1573.6,973.5 1576.6,972.9 1579.6,972.3 1582.6,971.8 1585.6,971.2 1588.6,970.6 1591.6,970.1 1594.6,969.5 1597.6,968.9 1600.6,968.4 1603.6,967.8 1606.6,967.2 1609.6,966.7 1612.6,966.1 1615.6,965.5 1618.6,965 1621.6,964.4 1624.6,963.9 1627.6,963.3 1630.6,962.7 1633.6,962.2 1636.6,961.6 1639.6,961 1642.6,960.5 1645.6,959.9 1648.6,959.3 1651.6,958.8 1654.6,958.2 1657.6,957.6 1660.6,957.1 1663.6,956.5 1666.6,955.9 1669.6,955.4 1672.6,954.8 1675.6,954.2 1678.6,953.7 1681.6,953.1 1684.6,952.5 1687.6,952 1690.6,951.4 1693.6,950.8 1696.6,950.3 1699.6,949.7 1702.6,949.1 1705.6,948.6 1708.6,948 1711.6,947.4 1714.6,946.9 1717.6,946.3 1720.6,945.8 1723.6,945.2 1726.6,944.6 1729.6,944.1 1732.6,943.5 1735.6,942.9 1738.6,942.4 1741.6,941.8 1744.6,941.2 1747.6,940.7 1750.6,940.1 1753.6,939.5 1756.6,939 1759.6,938.4 1762.6,937.8 1765.6,937.3 1768.6,936.7 1771.6,936.1 1774.6,935.6 1777.6,935 1780.6,934.4 1783.6,933.9 1786.6,933.3 1789.6,932.7 1792.6,932.2 1795.6,931.6 1798.6,931 1801.6,930.5 1804.6,929.9 1807.6,929.3 1810.6,928.8 1813.6,928.2 1816.6,927.6 1819.6,927.1 1822.6,926.5 1825.6,925.9 1828.6,925.4 1831.6,924.8 1834.6,924.2 1837.6,923.7 1840.6,923.1 1843.6,922.5 1846.6,922 1849.6,921.4 1852.6,920.8 1855.6,920.3 1858.6,919.7 1861.6,919.1 1864.6,918.6 1867.6,918 1870.6,917.4 1873.6,916.9 1876.6,916.3 1879.6,915.7 1882.6,915.2 1885.6,914.6 1888.6,914 1891.6,913.5 1894.6,912.9 1897.6,912.3 1900.6,911.8 1903.6,911.2 1906.6,910.6 1909.6,910.1 1912.6,909.5 1915.6,908.9 1918.6,908.4 1921.6,907.8 1924.6,907.2 1927.6,906.7 1930.6,906.1 1933.6,905.5 1936.6,905 1939.6,904.4 1942.6,903.8 1945.6,903.3 1948.6,902.7 1951.6,902.1 1954.6,901.6 1957.6,901 1960.6,900.4 1963.6,899.9 1966.6,899.3 1969.6,898.7 1972.6,898.2 1975.6,897.6 1978.6,897 1981.6,896.5 1984.6,895.9 1987.6,895.3 1990.6,894.8 1993.6,894.2 1996.6,893.6 1999.6,893.1 2002.6,892.5 2005.6,891.9 2008.6,891.4 2011.6,890.8 2014.6,890.2 2017.6,889.7 2020.6,889.1 2023.6,888.5 2026.6,888 2029.6,887.4 2032.6,886.8 2035.6,886.3 2038.6,885.7 2041.6,885.1 2044.6,884.6 2047.6,884 2050.6,883.4 2053.6,882.9 2056.6,882.3 2059.6,881.7 2062.6,881.2 2065.6,880.6 2068.6,880 2071.6,879.5 2074.6,878.9 2077.6,878.3 2080.6,877.8 2083.6,877.2 2086.6,876.6 2089.6,876.1 2092.6,875.5 2095.6,874.9 2098.6,874.4 2101.6,873.8 2104.6,873.2 2107.6,872.7 2110.6,872.1 2113.6,871.5 2116.6,871 2119.6,870.4 2122.6,869.8 2125.6,869.3 2128.6,868.7 2131.6,868.1 2134.6,867.6 2137.6,867 2140.6,866.4 2143.6,865.9 2146.6,865.3 2149.6,864.7 2152.6,864.2 2155.6,863.6 2158.6,863 2161.6,862.5 2164.6,861.9 2167.6,861.3 2170.6,860.8 2173.6,860.2 2176.6,859.6 2179.6,859.1 2182.6,858.5 2185.6,857.9 2188.6,857.4 2191.6,856.8 2194.6,856.2 2197.6,855.7 2200.6,855.1 2203.6,854.5 2206.6,854 2209.6,853.4 2212.6,852.8 2215.6,852.3 2218.6,851.7 2221.6,851.1 2224.6,850.6 2227.6,850 2230.6,849.4 2233.6,848.9 2236.6,848.3 2239.6,847.7 2242.6,847.2 2245.6,846.6 2246.6,846.4"/><path stroke="#00ffff" d="M373.6,1201 376.6,1200.5 379.6,1199.9 382.6,1199.3 385.6,1198.8 388.6,1198.2 391.6,1197.6 394.6,1197.1 397.6,1196.5 400.6,1195.9 403.6,1195.4 406.6,1194.8 409.6,1194.2 412.6,1193.6 415.6,1193.1 418.6,1192.5 421.6,1191.9 424.6,1191.4 427.6,1190.8 430.6,1190.2 433.6,1189.7 436.6,1189.1 439.6,1188.5 442.6,1188 445.6,1187.4 448.6,1186.8 451.6,1186.3 454.6,1185.7 457.6,1185.1 460.6,1184.6 463.6,1184 466.6,1183.4 469.6,1182.9 472.6,1182.3 475.6,1181.7 478.6,1181.2 481.6,1180.6 484.6,1180 487.6,1179.4 490.6,1178.9 493.6,1178.3 496.6,1177.7 499.6,1177.2 502.6,1176.6 505.6,1176 508.6,1175.5 511.6,1174.9 514.6,1174.3 517.6,1173.8 520.6,1173.2 523.6,1172.6 526.6,1172.1 529.6,1171.5 532.6,1170.9 535.6,1170.4 538.6,1169.8 541.6,1169.2 544.6,1168.7 547.6,1168.1 550.6,1167.5 553.6,1166.9 556.6,1166.4 559.6,1165.8 562.6,1165.2 565.6,1164.7 568.6,1164.1 571.6,1163.5 574.6,1163 577.6,1162.4 580.6,1161.8 583.6,1161.3 586.6,1160.7 589.6,1160.1 592.6,1159.6 595.6,1159 598.6,1158.4 601.6,1157.9 604.6,1157.3 607.6,1156.7 610.6,1156.2 613.6,1155.6 616.6,1155 619.6,1154.4 622.6,1153.9 625.6,1153.3 628.6,1152.7 631.6,1152.2 634.6,1151.6 637.6,1151 640.6,1150.5 643.6,1149.9 646.6,1149.3 649.6,1148.8 652.6,1148.2 655.6,1147.6 658.6,1147.1 661.6,1146.5 664.6,1145.9 667.6,1145.4 670.6,1144.8 673.6,1144.2 676.6,1143.6 679.6,1143.1 682.6,1142.5 685.6,1141.9 688.6,1141.4 691.6,1140.8 694.6,1140.2 697.6,1139.7 700.6,1139.1 703.6,1138.5 706.6,1138 709.6,1137.4 712.6,1136.8 715.6,1136.3 718.6,1135.7 721.6,1135.1 724.6,1134.6 727.6,1134 730.6,1133.4 733.6,1132.8 736.6,1132.3 739.6,1131.7 742.6,1131.1 745.6,1130.6 748.6,1130 751.6,1129.4 754.6,1128.9 757.6,1128.3 760.6,1127.7 763.6,1127.2 766.6,1126.6 769.6,1126 772.6,1125.5 775.6,1124.9 778.6,1124.3 781.6,1123.7 784.6,1123.2 787.6,1122.6 790.6,1122 793.6,1121.5 796.6,1120.9 799.6,1120.3 802.6,1119.8 805.6,1119.2 808.6,1118.6 811.6,1118.1 814.6,1117.5 817.6,1116.9 820.6,1116.4 823.6,1115.8 826.6,1115.2 829.6,1114.6 832.6,1114.1 835.6,1113.5 838.6,1112.9 841.6,1112.4 844.6,1111.8 847.6,1111.2 850.6,1110.7 853.6,1110.1 856.6,1109.5 859.6,1109 862.6,1108.4 865.6,1107.8 868.6,1107.2 871.6,1106.7 874.6,1106.1 877.6,1105.5 880.6,1105 883.6,1104.4 886.6,1103.8 889.6,1103.3 892.6,1102.7 895.6,1102.1 898.6,1101.6 901.6,1101 904.6,1100.4 907.6,1099.8 910.6,1099.3 913.6,1098.7 916.6,1098.1 919.6,1097.6 922.6,1097 925.6,1096.4 928.6,1095.9 931.6,1095.3 934.6,1094.7 937.6,1094.1 940.6,1093.6 943.6,1093 946.6,1092.4 949.6,1091.9 952.6,1091.3 955.6,1090.7 958.6,1090.2 961.6,1089.6 964.6,1089 967.6,1088.4 970.6,1087.9 973.6,1087.3 976.6,1086.7 979.6,1086.2 982.6,1085.6 985.6,1085 988.6,1084.5 991.6,1083.9 994.6,1083.3 997.6,1082.7 1000.6,1082.2 1003.6,1081.6 1006.6,1081 1009.6,1080.5 1012.6,1079.9 1015.6,1079.3 1018.6,1078.7 1021.6,1078.2 1024.6,1077.6 1027.6,1077 1030.6,1076.5 1033.6,1075.9 1036.6,1075.3 1039.6,1074.7 1042.6,1074.2 1045.6,1073.6 1048.6,1073 1051.6,1072.5 1054.6,1071.9 1057.6,1071.3 1060.6,1070.7 1063.6,1070.2 1066.6,1069.6 1069.6,1069 1072.6,1068.4 1075.6,1067.9 1078.6,1067.3 1081.6,1066.7 1084.6,1066.1 1087.6,1065.6 1090.6,1065 1093.6,1064.4 1096.6,1063.8 1099.6,1063.3 1102.6,1062.7 1105.6,1062.1 1108.6,1061.6 1111.6,1061 1114.6,1060.4 1117.6,1059.8 1120.6,1059.2 1123.6,1058.7 1126.6,1058.1 1129.6,1057.5 1132.6,1056.9 1135.6,1056.4 1138.6,1055.8 1141.6,1055.2 1144.6,1054.6 1147.6,1054.1 1150.6,1053.5 1153.6,1052.9 1156.6,1052.3 1159.6,1051.7 1162.6,1051.2 1165.6,1050.6 1168.6,1050 1171.6,1049.4 1174.6,1048.8 1177.6,1048.2 1180.6,1047.7 1183.6,1047.1 1186.6,1046.5 1189.6,1045.9 1192.6,1045.3 1195.6,1044.7 1198.6,1044.2 1201.6,1043.6 1204.6,1043 1207.6,1042.4 1210.6,1041.8 1213.6,1041.2 1216.6,1040.6 1219.6,1040 1222.6,1039.4 1225.6,1038.8 1228.6,1038.2 1231.6,1037.6 1234.6,1037.1 1237.6,1036.5 1240.6,1035.9 1243.6,1035.3 1246.6,1034.6 1249.6,1034 1252.6,1033.4 1255.6,1032.8 1258.6,1032.2 1261.6,1031.6 1264.6,1031 1267.6,1030.4 1270.6,1029.8 1273.6,1029.1 1276.6,1028.5 1279.6,1027.9 1282.6,1027.3 1285.6,1026.6 1288.6,1026 1291.6,1025.3 1294.6,1024.7 1297.6,1024.1 1300.6,1023.4 1303.6,1022.7 1306.6,1022.1 1309.6,1021.4 1312.6,1020.7 1315.6,1020 1318.6,1019.4 1321.6,1018.7 1324.6,1017.9 1327.6,1017.2 1330.6,1016.5 1333.6,1015.8 1336.6,1015 1339.6,1014.3 1342.6,1013.5 1345.6,1012.7 1348.6,1011.9 1351.6,1011.1 1354.6,1010.2 1357.6,1009.3 1360.6,1008.5 1363.6,1007.6 1366.6,1006.6 1369.6,1005.7 1372.6,1004.7 1375.6,1003.6 1378.6,1002.6 1381.6,1001.5 1384.6,1000.4 1387.6,999.2 1390.6,998 1393.6,996.8 1396.6,995.5 1399.6,994.2 1402.6,992.9 1405.6,991.6 1408.6,990.3 1411.6,989 1414.6,987.7 1417.6,986.5 1420.6,985.3 1423.6,984.3 1426.6,983.3 1429.6,982.5 1432.6,981.8 1435.6,981.2 1438.6,980.7 1441.6,980.2 1444.6,979.8 1447.6,979.4 1450.6,979 1453.6,978.6 1456.6,978.3 1459.6,978 1462.6,977.7 1465.6,977.5 1468.6,977.2 1471.6,977 1474.6,976.8 1477.6,976.6 1480.6,976.4 1483.6,976.2 1486.6,976.1 1489.6,975.9 1492.6,975.7 1495.6,975.5 1498.6,975.3 1501.6,975.1 1504.6,974.9 1507.6,974.7 1510.6,974.5 1513.6,974.3 1516.6,974.1 1519.6,973.8 1522.6,973.6 1525.6,973.3 1528.6,973.1 1531.6,972.8 1534.6,972.5 1537.6,972.2 1540.6,971.9 1543.6,971.6 1546.6,971.3 1549.6,971 1552.6,970.6 1555.6,970.3 1558.6,969.9 1561.6,969.6 1564.6,969.2 1567.6,968.8 1570.6,968.4 1573.6,968 1576.6,967.6 1579.6,967.2 1582.6,966.8 1585.6,966.4 1588.6,966 1591.6,965.6 1594.6,965.1 1597.6,964.7 1600.6,964.3 1603.6,963.8 1606.6,963.4 1609.6,962.9 1612.6,962.4 1615.6,962 1618.6,961.5 1621.6,961.1 1624.6,960.6 1627.6,960.1 1630.6,959.6 1633.6,959.1 1636.6,958.7 1639.6,958.2 1642.6,957.7 1645.6,957.2 1648.6,956.7 1651.6,956.2 1654.6,955.7 1657.6,955.2 1660.6,954.7 1663.6,954.2 1666.6,953.7 1669.6,953.2 1672.6,952.7 1675.6,952.1 1678.6,951.6 1681.6,951.1 1684.6,950.6 1687.6,950.1 1690.6,949.6 1693.6,949 1696.6,948.5 1699.6,948 1702.6,947.5 1705.6,946.9 1708.6,946.4 1711.6,945.9 1714.6,945.3 1717.6,944.8 1720.6,944.3 1723.6,943.7 1726.6,943.2 1729.6,942.7 1732.6,942.1 1735.6,941.6 1738.6,941.1 1741.6,940.5 1744.6,940 1747.6,939.5 1750.6,938.9 1753.6,938.4 1756.6,937.8 1759.6,937.3 1762.6,936.7 1765.6,936.2 1768.6,935.7 1771.6,935.1 1774.6,934.6 1777.6,934 1780.6,933.5 1783.6,932.9 1786.6,932.4 1789.6,931.8 1792.6,931.3 1795.6,930.7 1798.6,930.2 1801.6,929.6 1804.6,929.1 1807.6,928.5 1810.6,928 1813.6,927.4 1816.6,926.9 1819.6,926.3 1822.6,925.8 1825.6,925.2 1828.6,924.7 1831.6,924.1 1834.6,923.6 1837.6,923 1840.6,922.5 1843.6,921.9 1846.6,921.3 1849.6,920.8 1852.6,920.2 1855.6,919.7 1858.6,919.1 1861.6,918.6 1864.6,918 1867.6,917.5 1870.6,916.9 1873.6,916.3 1876.6,915.8 1879.6,915.2 1882.6,914.7 1885.6,914.1 1888.6,913.6 1891.6,913 1894.6,912.4 1897.6,911.9 1900.6,911.3 1903.6,910.8 1906.6,910.2 1909.6,909.6 1912.6,909.1 1915.6,908.5 1918.6,908 1921.6,907.4 1924.6,906.8 1927.6,906.3 1930.6,905.7 1933.6,905.2 1936.6,904.6 1939.6,904 1942.6,903.5 1945.6,902.9 1948.6,902.4 1951.6,901.8 1954.6,901.2 1957.6,900.7 1960.6,900.1 1963.6,899.6 1966.6,899 1969.6,898.4 1972.6,897.9 1975.6,897.3 1978.6,896.8 1981.6,896.2 1984.6,895.6 1987.6,895.1 1990.6,894.5 1993.6,893.9 1996.6,893.4 1999.6,892.8 2002.6,892.3 2005.6,891.7 2008.6,891.1 2011.6,890.6 2014.6,890 2017.6,889.4 2020.6,888.9 2023.6,888.3 2026.6,887.8 2029.6,887.2 2032.6,886.6 2035.6,886.1 2038.6,885.5 2041.6,884.9 2044.6,884.4 2047.6,883.8 2050.6,883.2 2053.6,882.7 2056.6,882.1 2059.6,881.6 2062.6,881 2065.6,880.4 2068.6,879.9 2071.6,879.3 2074.6,878.7 2077.6,878.2 2080.6,877.6 2083.6,877 2086.6,876.5 2089.6,875.9 2092.6,875.3 2095.6,874.8 2098.6,874.2 2101.6,873.7 2104.6,873.1 2107.6,872.5 2110.6,872 2113.6,871.4 2116.6,870.8 2119.6,870.3 2122.6,869.7 2125.6,869.1 2128.6,868.6 2131.6,868 2134.6,867.4 2137.6,866.9 2140.6,866.3 2143.6,865.7 2146.6,865.2 2149.6,864.6 2152.6,864.1 2155.6,863.5 2158.6,862.9 2161.6,862.4 2164.6,861.8 2167.6,861.2 2170.6,860.7 2173.6,860.1 2176.6,859.5 2179.6,859 2182.6,858.4 2185.6,857.8 2188.6,857.3 2191.6,856.7 2194.6,856.1 2197.6,855.6 2200.6,855 2203.6,854.4 2206.6,853.9 2209.6,853.3 2212.6,852.7 2215.6,852.2 2218.6,851.6 2221.6,851 2224.6,850.5 2227.6,849.9 2230.6,849.3 2233.6,848.8 2236.6,848.2 2239.6,847.7 2242.6,847.1 2245.6,846.5 2246.6,846.3"/><path stroke="#0000ff" d="M373.6,1200.4 376.6,1199.8 379.6,1199.2 382.6,1198.7 385.6,1198.1 388.6,1197.5 391.6,1196.9 394.6,1196.4 397.6,1195.8 400.6,1195.2 403.6,1194.6 406.6,1194.1 409.6,1193.5 412.6,1192.9 415.6,1192.3 418.6,1191.8 421.6,1191.2 424.6,1190.6 427.6,1190 430.6,1189.5 433.6,1188.9 436.6,1188.3 439.6,1187.7 442.6,1187.2 445.6,1186.6 448.6,1186 451.6,1185.4 454.6,1184.9 457.6,1184.3 460.6,1183.7 463.6,1183.1 466.6,1182.6 469.6,1182 472.6,1181.4 475.6,1180.8 478.6,1180.2 481.6,1179.7 484.6,1179.1 487.6,1178.5 490.6,1177.9 493.6,1177.3 496.6,1176.8 499.6,1176.2 502.6,1175.6 505.6,1175 508.6,1174.4 511.6,1173.9 514.6,1173.3 517.6,1172.7 520.6,1172.1 523.6,1171.5 526.6,1171 529.6,1170.4 532.6,1169.8 535.6,1169.2 538.6,1168.6 541.6,1168 544.6,1167.5 547.6,1166.9 550.6,1166.3 553.6,1165.7 556.6,1165.1 559.6,1164.5 562.6,1163.9 565.6,1163.4 568.6,1162.8 571.6,1162.2 574.6,1161.6 577.6,1161 580.6,1160.4 583.6,1159.8 586.6,1159.2 589.6,1158.6 592.6,1158 595.6,1157.4 598.6,1156.8 601.6,1156.2 604.6,1155.6 607.6,1155 610.6,1154.4 613.6,1153.7 616.6,1153.1 619.6,1152.5 622.6,1151.9 625.6,1151.2 628.6,1150.6 631.6,1149.9 634.6,1149.3 637.6,1148.6 640.6,1148 643.6,1147.3 646.6,1146.6 649.6,1146 652.6,1145.3 655.6,1144.6 658.6,1143.8 661.6,1143.1 664.6,1142.4 667.6,1141.6 670.6,1140.9 673.6,1140.1 676.6,1139.3 679.6,1138.5 682.6,1137.6 685.6,1136.8 688.6,1135.9 691.6,1135 694.6,1134.1 697.6,1133.1 700.6,1132.2 703.6,1131.2 706.6,1130.1 709.6,1129.1 712.6,1128 715.6,1126.8 718.6,1125.7 721.6,1124.5 724.6,1123.2 727.6,1121.9 730.6,1120.6 733.6,1119.2 736.6,1117.8 739.6,1116.3 742.6,1114.8 745.6,1113.2 748.6,1111.6 751.6,1109.9 754.6,1108.1 757.6,1106.3 760.6,1104.5 763.6,1102.6 766.6,1100.6 769.6,1098.5 772.6,1096.4 775.6,1094.2 778.6,1092 781.6,1089.7 784.6,1087.3 787.6,1084.9 790.6,1082.3 793.6,1079.8 796.6,1077.2 799.6,1074.5 802.6,1071.7 805.6,1068.9 808.6,1066 811.6,1063.1 814.6,1060.1 817.6,1057.1 820.6,1054 823.6,1050.9 826.6,1047.7 829.6,1044.6 832.6,1041.3 835.6,1038.1 838.6,1034.8 841.6,1031.5 844.6,1028.2 847.6,1024.9 850.6,1021.6 853.6,1018.3 856.6,1015 859.6,1011.8 862.6,1008.5 865.6,1005.3 868.6,1002.1 871.6,999 874.6,996 877.6,992.9 880.6,990 883.6,987.1 886.6,984.3 889.6,981.7 892.6,979.1 895.6,976.6 898.6,974.2 901.6,971.9 904.6,969.8 907.6,967.7 910.6,965.9 913.6,964.1 916.6,962.5 919.6,961.1 922.6,959.8 925.6,958.6 928.6,957.6 931.6,956.8 934.6,956.1 937.6,955.6 940.6,955.3 943.6,955.2 946.6,955.2 949.6,955.5 952.6,955.9 955.6,956.4 958.6,957.2 961.6,958.1 964.6,959.1 967.6,960.3 970.6,961.6 973.6,963.1 976.6,964.7 979.6,966.3 982.6,968.1 985.6,970 988.6,972 991.6,974 994.6,976.2 997.6,978.3 1000.6,980.6 1003.6,982.9 1006.6,985.2 1009.6,987.5 1012.6,989.8 1015.6,992.2 1018.6,994.6 1021.6,996.9 1024.6,999.3 1027.6,1001.6 1030.6,1003.9 1033.6,1006.2 1036.6,1008.4 1039.6,1010.6 1042.6,1012.7 1045.6,1014.8 1048.6,1016.8 1051.6,1018.8 1054.6,1020.7 1057.6,1022.6 1060.6,1024.4 1063.6,1026.1 1066.6,1027.7 1069.6,1029.3 1072.6,1030.8 1075.6,1032.2 1078.6,1033.6 1081.6,1034.9 1084.6,1036.1 1087.6,1037.2 1090.6,1038.2 1093.6,1039.2 1096.6,1040.1 1099.6,1041 1102.6,1041.7 1105.6,1042.4 1108.6,1043.1 1111.6,1043.6 1114.6,1044.1 1117.6,1044.6 1120.6,1045 1123.6,1045.3 1126.6,1045.6 1129.6,1045.8 1132.6,1046 1135.6,1046.1 1138.6,1046.2 1141.6,1046.3 1144.6,1046.3 1147.6,1046.2 1150.6,1046.1 1153.6,1046 1156.6,1045.9 1159.6,1045.7 1162.6,1045.5 1165.6,1045.3 1168.6,1045 1171.6,1044.8 1174.6,1044.5 1177.6,1044.1 1180.6,1043.8 1183.6,1043.4 1186.6,1043.1 1189.6,1042.7 1192.6,1042.3 1195.6,1041.9 1198.6,1041.4 1201.6,1041 1204.6,1040.5 1207.6,1040.1 1210.6,1039.6 1213.6,1039.1 1216.6,1038.6 1219.6,1038.1 1222.6,1037.6 1225.6,1037.1 1228.6,1036.6 1231.6,1036.1 1234.6,1035.6 1237.6,1035.1 1240.6,1034.6 1243.6,1034 1246.6,1033.5 1249.6,1033 1252.6,1032.4 1255.6,1031.9 1258.6,1031.3 1261.6,1030.8 1264.6,1030.2 1267.6,1029.7 1270.6,1029.1 1273.6,1028.6 1276.6,1028 1279.6,1027.5 1282.6,1026.9 1285.6,1026.4 1288.6,1025.8 1291.6,1025.3 1294.6,1024.7 1297.6,1024.1 1300.6,1023.6 1303.6,1023 1306.6,1022.5 1309.6,1021.9 1312.6,1021.3 1315.6,1020.8 1318.6,1020.2 1321.6,1019.6 1324.6,1019.1 1327.6,1018.5 1330.6,1018 1333.6,1017.4 1336.6,1016.8 1339.6,1016.3 1342.6,1015.7 1345.6,1015.1 1348.6,1014.5 1351.6,1014 1354.6,1013.4 1357.6,1012.8 1360.6,1012.3 1363.6,1011.7 1366.6,1011.1 1369.6,1010.6 1372.6,1010 1375.6,1009.4 1378.6,1008.8 1381.6,1008.3 1384.6,1007.7 1387.6,1007.1 1390.6,1006.5 1393.6,1006 1396.6,1005.4 1399.6,1004.8 1402.6,1004.2 1405.6,1003.7 1408.6,1003.1 1411.6,1002.5 1414.6,1001.9 1417.6,1001.4 1420.6,1000.8 1423.6,1000.2 1426.6,999.6 1429.6,999 1432.6,998.5 1435.6,997.9 1438.6,997.3 1441.6,996.7 1444.6,996.1 1447.6,995.6 1450.6,995 1453.6,994.4 1456.6,993.8 1459.6,993.2 1462.6,992.6 1465.6,992.1 1468.6,991.5 1471.6,990.9 1474.6,990.3 1477.6,989.7 1480.6,989.1 1483.6,988.5 1486.6,987.9 1489.6,987.4 1492.6,986.8 1495.6,986.2 1498.6,985.6 1501.6,985 1504.6,984.4 1507.6,983.8 1510.6,983.2 1513.6,982.6 1516.6,982 1519.6,981.4 1522.6,980.8 1525.6,980.2 1528.6,979.6 1531.6,979 1534.6,978.4 1537.6,977.8 1540.6,977.2 1543.6,976.6 1546.6,976 1549.6,975.4 1552.6,974.8 1555.6,974.2 1558.6,973.6 1561.6,973 1564.6,972.3 1567.6,971.7 1570.6,971.1 1573.6,970.5 1576.6,969.9 1579.6,969.2 1582.6,968.6 1585.6,968 1588.6,967.4 1591.6,966.7 1594.6,966.1 1597.6,965.4 1600.6,964.8 1603.6,964.1 1606.6,963.5 1609.6,962.8 1612.6,962.2 1615.6,961.5 1618.6,960.8 1621.6,960.1 1624.6,959.4 1627.6,958.7 1630.6,958 1633.6,957.3 1636.6,956.5 1639.6,955.8 1642.6,955 1645.6,954.2 1648.6,953.4 1651.6,952.6 1654.6,951.8 1657.6,950.9 1660.6,950.1 1663.6,949.2 1666.6,948.2 1669.6,947.3 1672.6,946.3 1675.6,945.2 1678.6,944.2 1681.6,943.1 1684.6,941.9 1687.6,940.8 1690.6,939.5 1693.6,938.2 1696.6,936.9 1699.6,935.5 1702.6,934 1705.6,932.5 1708.6,930.9 1711.6,929.3 1714.6,927.5 1717.6,925.7 1720.6,923.8 1723.6,921.8 1726.6,919.7 1729.6,917.5 1732.6,915.2 1735.6,912.8 1738.6,910.2 1741.6,907.6 1744.6,904.8 1747.6,902 1750.6,899 1753.6,895.8 1756.6,892.6 1759.6,889.1 1762.6,885.6 1765.6,881.9 1768.6,878.1 1771.6,874.1 1774.6,870 1777.6,865.7 1780.6,861.3 1783.6,856.7 1786.6,852 1789.6,847.1 1792.6,842.1 1795.6,836.9 1798.6,831.7 1801.6,826.2 1804.6,820.7 1807.6,815 1810.6,809.2 1813.6,803.3 1816.6,797.4 1819.6,791.3 1822.6,785.1 1825.6,778.9 1828.6,772.6 1831.6,766.2 1834.6,759.8 1837.6,753.4 1840.6,747 1843.6,740.6 1846.6,734.2 1849.6,727.9 1852.6,721.6 1855.6,715.3 1858.6,709.2 1861.6,703.1 1864.6,697.2 1867.6,691.4 1870.6,685.8 1873.6,680.4 1876.6,675.1 1879.6,670.1 1882.6,665.3 1885.6,660.7 1888.6,656.5 1891.6,652.4 1894.6,648.7 1897.6,645.3 1900.6,642.3 1903.6,639.6 1906.6,637.2 1909.6,635.2 1912.6,633.5 1915.6,632.2 1918.6,631.3 1921.6,630.8 1924.6,630.6 1927.6,630.9 1930.6,631.5 1933.6,632.5 1936.6,633.8 1939.6,635.5 1942.6,637.5 1945.6,639.8 1948.6,642.5 1951.6,645.5 1954.6,648.7 1957.6,652.2 1960.6,655.9 1963.6,659.9 1966.6,664.1 1969.6,668.5 1972.6,673 1975.6,677.7 1978.6,682.6 1981.6,687.6 1984.6,692.6 1987.6,697.8 1990.6,703 1993.6,708.2 1996.6,713.5 1999.6,718.8 2002.6,724.1 2005.6,729.4 2008.6,734.7 2011.6,739.9 2014.6,745.1 2017.6,750.2 2020.6,755.2 2023.6,760.1 2026.6,765 2029.6,769.7 2032.6,774.4 2035.6,778.9 2038.6,783.3 2041.6,787.5 2044.6,791.6 2047.6,795.6 2050.6,799.5 2053.6,803.1 2056.6,806.7 2059.6,810.1 2062.6,813.3 2065.6,816.4 2068.6,819.4 2071.6,822.2 2074.6,824.8 2077.6,827.4 2080.6,829.7 2083.6,832 2086.6,834 2089.6,836 2092.6,837.8 2095.6,839.5 2098.6,841.1 2101.6,842.6 2104.6,843.9 2107.6,845.1 2110.6,846.3 2113.6,847.3 2116.6,848.2 2119.6,849 2122.6,849.8 2125.6,850.4 2128.6,851 2131.6,851.5 2134.6,852 2137.6,852.3 2140.6,852.6 2143.6,852.9 2146.6,853 2149.6,853.2 2152.6,853.2 2155.6,853.3 2158.6,853.3 2161.6,853.2 2164.6,853.1 2167.6,853 2170.6,852.8 2173.6,852.6 2176.6,852.4 2179.6,852.2 2182.6,851.9 2185.6,851.6 2188.6,851.3 2191.6,851 2194.6,850.7 2197.6,850.3 2200.6,849.9 2203.6,849.5 2206.6,849.1 2209.6,848.7 2212.6,848.3 2215.6,847.9 2218.6,847.4 2221.6,847 2224.6,846.5 2227.6,846.1 2230.6,845.6 2233.6,845.1 2236.6,844.6 2239.6,844.1 2242.6,843.7 2245.6,843.2 2246.6,843"/></g><g stroke="#000" stroke-width="4.6" fill="none" stroke-linecap="butt"><rect x="367.3" y="59" width="1917.7" height="1438"/><path d="M392.7,1497V1517 M518.8,1497V1528 M644.9,1497V1517 M771,1497V1517 M897.2,1497V1517 M1023.3,1497V1528 M1149.4,1497V1517 M1275.5,1497V1517 M1401.7,1497V1517 M1527.8,1497V1528 M1653.9,1497V1517 M1780,1497V1517 M1906.2,1497V1517 M2032.3,1497V1528 M2158.4,1497V1517 M2284.6,1497V1517 M367.3,59H334.8 M367.3,264.4H347.8 M367.3,469.9H334.8 M367.3,675.3H347.8 M367.3,880.7H334.8 M367.3,1086.1H347.8 M367.3,1291.6H334.8 M367.3,1497H347.8"/></g><g font-size="91.5" fill="#000" text-anchor="end"><text x="308.5" y="88">1500</text><text x="308.5" y="498.9">1450</text><text x="308.5" y="909.7">1400</text><text x="308.5" y="1320.6">1350</text></g><g font-size="91.5" fill="#000" text-anchor="middle"><text x="519.8" y="1622">960</text><text x="1024.3" y="1622">950</text><text x="1528.8" y="1622">940</text><text x="2033.3" y="1622">930</text></g><text x="951" y="1720" font-size="90">Binding Energy (eV)</text><text transform="translate(86.4,1035) rotate(-90)" font-size="90">Intensity (cps)</text><text x="494" y="206" font-size="90.5">Cu 2p</text><g fill="#0000ff"><text x="876" y="656.6" font-size="91.5">2p<tspan font-size="64" dy="23.5">1/2</tspan></text><text x="1966" y="359.6" font-size="91.5">2p<tspan font-size="64" dy="23.5">3/2</tspan></text><text transform="translate(1943.4,1386) rotate(-90)" font-size="91.5" letter-spacing="-1">932.24</text></g><path d="M1920,966V1104" stroke="#0000ff" stroke-width="4.6"/></svg></body></html>
